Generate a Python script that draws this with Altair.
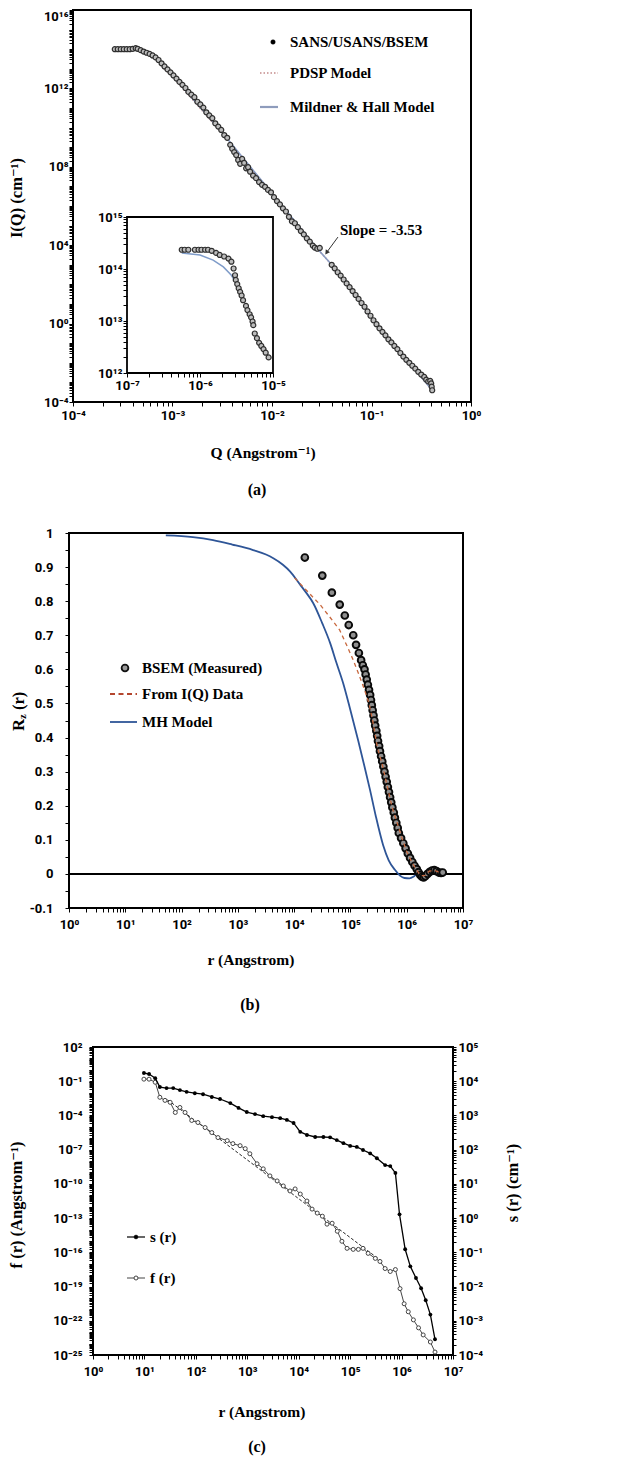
import altair as alt
import pandas as pd

# ================= Panel (a): I(Q) vs Q  (values are log10) =================
a_log_q = [-3.58, -3.55, -3.52, -3.49, -3.46, -3.43, -3.40, -3.37, -3.35,
           -3.32, -3.29, -3.26, -3.23, -3.20, -3.17, -3.14, -3.11, -3.08, -3.05,
           -3.02, -2.99, -2.96, -2.93, -2.90, -2.87, -2.84, -2.81, -2.78, -2.75,
           -2.72, -2.69, -2.66, -2.63, -2.60, -2.57, -2.54, -2.51, -2.48, -2.45,
           -2.42, -2.40, -2.38, -2.36, -2.34, -2.32, -2.30, -2.28, -2.26, -2.24,
           -2.22, -2.19, -2.16, -2.13, -2.10, -2.07, -2.04, -2.01, -1.98, -1.95,
           -1.92, -1.89, -1.86, -1.83, -1.80, -1.77, -1.74, -1.71, -1.68, -1.65,
           -1.62, -1.59, -1.57, -1.545, -1.52,
           -1.40, -1.37, -1.34, -1.31, -1.28, -1.25, -1.22, -1.19, -1.16, -1.13,
           -1.10, -1.07, -1.04, -1.01, -0.98, -0.95, -0.92, -0.89, -0.86, -0.83,
           -0.80, -0.77, -0.74, -0.71, -0.68, -0.65, -0.62, -0.59, -0.56, -0.53,
           -0.50, -0.47, -0.45, -0.43, -0.41, -0.40, -0.395, -0.39]
a_log_i = [14.0, 14.0, 14.0, 14.0, 14.0, 14.0, 14.02, 14.05, 14.02,
           13.95, 13.88, 13.82, 13.76, 13.68, 13.58, 13.45, 13.28, 13.12, 12.97,
           12.82, 12.66, 12.50, 12.33, 12.18, 12.02, 11.82, 11.68, 11.55, 11.32,
           11.18, 11.02, 10.78, 10.62, 10.48, 10.22, 10.05, 9.88, 9.62, 9.48,
           9.12, 8.92, 8.75, 8.60, 8.35, 8.15, 8.40, 8.20, 7.92, 7.98,
           7.75, 7.55, 7.42, 7.22, 7.08, 6.98, 6.82, 6.70, 6.45, 6.25,
           6.08, 5.88, 5.72, 5.45, 5.22, 5.12, 4.92, 4.72, 4.55, 4.35,
           4.18, 3.98, 3.88, 3.82, 3.86,
           3.00, 2.82, 2.62, 2.45, 2.25, 2.05, 1.86, 1.66, 1.46, 1.26,
           1.05, 0.86, 0.62, 0.40, 0.17, -0.03, -0.24, -0.42, -0.60, -0.80,
           -0.96, -1.14, -1.30, -1.50, -1.68, -1.85, -2.00, -2.15, -2.30, -2.46,
           -2.60, -2.72, -2.86, -2.95, -2.92, -3.05, -3.22, -3.40]
a_mh_log_q = [-3.58, -3.37, -3.25, -3.15, -3.00, -2.50, -2.00, -1.55, -1.40, -1.00, -0.39]
a_mh_log_i = [14.0, 14.0, 13.8, 13.45, 12.65, 9.75, 6.65, 3.86, 3.00, 0.30, -3.40]
a_pdsp_log_q = [-3.58, -3.37, -3.20, -3.00, -2.50, -2.00, -1.55, -1.40, -1.00, -0.39]
a_pdsp_log_i = [14.0, 14.0, 13.6, 12.6, 9.7, 6.6, 3.85, 3.0, 0.28, -3.38]
slope_arrow_q = [0.046, 0.0357]
slope_arrow_i = [2.6e4, 4.5e3]
slope_text_q = [0.0482]
slope_text_i = [6.0e4]

inset_log_q = [-6.25, -6.21, -6.16, -6.07, -6.02, -5.98, -5.93, -5.89, -5.84, -5.78,
               -5.73, -5.67, -5.61, -5.57, -5.54, -5.52, -5.51, -5.49, -5.47, -5.45,
               -5.43, -5.41, -5.37, -5.35, -5.32, -5.30, -5.28, -5.27, -5.25, -5.22,
               -5.19, -5.16, -5.13, -5.10, -5.06]
inset_log_i = [14.37, 14.37, 14.37, 14.37, 14.37, 14.37, 14.37, 14.37, 14.35, 14.31,
               14.27, 14.24, 14.20, 14.14, 14.01, 13.88, 13.79, 13.71, 13.63, 13.56,
               13.49, 13.40, 13.29, 13.21, 13.13, 13.07, 12.99, 12.92, 12.76, 12.67,
               12.58, 12.52, 12.46, 12.39, 12.30]
inset_mh_log_q = [-6.25, -6.00, -5.82, -5.68, -5.57, -5.50, -5.45]
inset_mh_log_i = [14.31, 14.27, 14.17, 14.04, 13.88, 13.72, 13.56]

# ================= Panel (b): Rz(r) =================
b_mh_log_r = [1.72, 2.2, 2.56, 2.9, 3.27, 3.5, 3.63, 3.8, 3.93, 4.1,
              4.2, 4.34, 4.5, 4.64, 4.75, 4.87, 5.0, 5.14, 5.25, 5.35,
              5.45, 5.58, 5.68, 5.79, 5.88, 5.96, 6.05, 6.12, 6.18]
b_mh_rz = [0.993, 0.988, 0.979, 0.966, 0.950, 0.937, 0.926, 0.907, 0.887, 0.85,
           0.828, 0.794, 0.735, 0.677, 0.62, 0.56, 0.48, 0.39, 0.315, 0.245,
           0.17, 0.085, 0.04, 0.012, -0.005, -0.012, -0.013, -0.008, 0.0]
b_iq_log_r = [4.01, 4.2, 4.46, 4.65, 4.81, 4.95, 5.05, 5.15, 5.25, 5.33,
              5.40, 5.48, 5.56, 5.65, 5.74, 5.83, 5.91, 6.00, 6.09, 6.18,
              6.25, 6.32, 6.4, 6.5, 6.6]
b_iq_rz = [0.868, 0.835, 0.79, 0.75, 0.715, 0.665, 0.627, 0.585, 0.54, 0.50,
           0.445, 0.37, 0.325, 0.26, 0.196, 0.15, 0.108, 0.065, 0.035, 0.01,
           -0.005, -0.005, 0.008, 0.01, 0.003]
b_bsem_log_r = [4.19, 4.50, 4.67, 4.81, 4.90, 4.97, 5.05, 5.10, 5.15, 5.19, 5.22,
                5.25, 5.27, 5.29, 5.31, 5.33, 5.35, 5.365, 5.38, 5.395, 5.41,
                5.425, 5.44, 5.46, 5.475, 5.49, 5.51, 5.525, 5.545, 5.565, 5.585,
                5.605, 5.625, 5.645, 5.665, 5.685, 5.705, 5.725, 5.745, 5.77, 5.79,
                5.815, 5.84, 5.86, 5.90, 5.94, 5.98, 6.02, 6.06, 6.10, 6.14,
                6.18, 6.21, 6.24, 6.27, 6.30, 6.33, 6.37, 6.41, 6.45, 6.49,
                6.53, 6.57, 6.61, 6.64]
b_bsem_rz = [0.928, 0.875, 0.825, 0.79, 0.758, 0.73, 0.70, 0.672, 0.648, 0.627, 0.612,
             0.60, 0.585, 0.57, 0.555, 0.54, 0.525, 0.51, 0.495, 0.48, 0.465,
             0.45, 0.435, 0.42, 0.405, 0.39, 0.375, 0.36, 0.345, 0.33, 0.315,
             0.30, 0.285, 0.27, 0.255, 0.24, 0.225, 0.21, 0.195, 0.18, 0.165,
             0.15, 0.135, 0.12, 0.105, 0.09, 0.075, 0.06, 0.047, 0.035, 0.024,
             0.014, 0.005, -0.003, -0.008, -0.01, -0.007, 0.0, 0.006, 0.01, 0.011,
             0.008, 0.004, 0.003, 0.004]

# ================= Panel (c): s(r) and f(r) =================
c_s_log_r = [0.99, 1.09, 1.21, 1.30, 1.43, 1.56, 1.69, 1.82, 1.98, 2.14,
             2.31, 2.47, 2.67, 2.83, 2.99, 3.15, 3.31, 3.48, 3.64, 3.77,
             3.90, 4.03, 4.16, 4.32, 4.48, 4.61, 4.74, 4.87, 5.00, 5.13,
             5.25, 5.39, 5.52, 5.68, 5.78, 5.88, 5.96, 6.07, 6.17, 6.28,
             6.38, 6.47, 6.56, 6.65]
c_s_log_s = [4.24, 4.21, 4.09, 3.83, 3.80, 3.80, 3.74, 3.69, 3.65, 3.62,
             3.54, 3.48, 3.36, 3.22, 3.10, 3.04, 2.98, 2.95, 2.92, 2.87,
             2.78, 2.52, 2.43, 2.37, 2.37, 2.36, 2.28, 2.19, 2.11, 2.08,
             1.99, 1.89, 1.75, 1.55, 1.52, 1.32, 0.11, -0.91, -1.41, -1.75,
             -2.05, -2.40, -2.82, -3.54]
c_f_log_r = [0.99, 1.09, 1.21, 1.30, 1.40, 1.50, 1.60, 1.69, 1.79, 1.92,
             2.04, 2.18, 2.31, 2.43, 2.61, 2.72, 2.86, 2.96, 3.05, 3.19,
             3.31, 3.44, 3.58, 3.70, 3.83, 3.93, 4.03, 4.16, 4.26, 4.36,
             4.46, 4.55, 4.65, 4.75, 4.84, 4.94, 5.06, 5.16, 5.25, 5.35,
             5.49, 5.58, 5.68, 5.78, 5.88, 5.97, 6.05, 6.13, 6.23, 6.33,
             6.42, 6.56, 6.65]
c_f_log_f = [-0.82, -0.82, -1.09, -2.41, -2.68, -2.85, -3.74, -3.30, -3.74, -4.44,
             -4.62, -5.06, -5.50, -5.94, -6.21, -6.47, -6.65, -6.91, -7.36, -8.24,
             -8.68, -9.30, -9.74, -10.18, -10.62, -10.44, -10.89, -11.50, -12.21, -12.56,
             -12.83, -13.53, -13.45, -14.15, -15.03, -15.65, -15.74, -15.74, -15.65, -16.09,
             -16.53, -16.80, -17.42, -17.68, -17.51, -19.18, -20.51, -21.21, -21.92, -22.62,
             -23.24, -23.86, -24.74]
c_fit_log_r = [1.45, 5.6]
c_fit_log_f = [-2.63, -16.74]

# ================= styling / layout =================
SERIF = "Liberation Serif, Times New Roman, DejaVu Serif, serif"
SANS = "Roboto, Noto Sans, DejaVu Sans, sans-serif"
W, H = 613, 1449
SUP = str.maketrans("0123456789-", "\u2070\u00b9\u00b2\u00b3\u2074\u2075\u2076\u2077\u2078\u2079\u207b")


def pow10(e):
    return "10" + str(e).translate(SUP)


def log_ticks(e0, e1):
    vals = [m * 10.0 ** e for e in range(e0, e1) for m in range(1, 10)]
    return vals + [10.0 ** e1]


def decade_labels(e0, e1, step):
    return {10.0 ** e: pow10(e) for e in range(e0, e1 + 1, step)}


def expr_for(mapping):
    expr = "''"
    for v, s in mapping.items():
        expr = f"datum.value === {v!r} ? '{s}' : ({expr})"
    return expr


def axis(orient, offset, values, mapping, tick=4, pad=2, size=13, **extra):
    return alt.Axis(orient=orient, offset=offset, values=values, labelExpr=expr_for(mapping),
                    title=None, domain=False, grid=False, tickSize=tick, tickWidth=1,
                    tickColor="black", labelFont=SANS, labelFontSize=size,
                    labelFontWeight="bold", labelColor="black", labelPadding=pad,
                    labelOverlap=False, labelFlush=False, zindex=1, **extra)


def pw(vals):
    return [10.0 ** v for v in vals]


# ---------- panel a ----------
xa = alt.Scale(type="log", domain=[1e-4, 1.0], range=[65, 463])
ya = alt.Scale(type="log", domain=[1e-4, 1e16], range=[394, 2])
ax_xa = axis("bottom", 394 - H, log_ticks(-4, 0), decade_labels(-4, 0, 1), tick=4, pad=3)
ax_ya = axis("left", -65, log_ticks(-4, 16), decade_labels(-4, 16, 4), tick=4, pad=1,
             labelBaseline={"condition": {"test": "datum.value === 1e+16", "value": "top"},
                            "value": "middle"})


def enc_a(c, xf="q", yf="i"):
    return c.encode(x=alt.X(f"{xf}:Q", scale=xa, axis=ax_xa), y=alt.Y(f"{yf}:Q", scale=ya, axis=ax_ya))


a_df = pd.DataFrame({"q": pw(a_log_q), "i": pw(a_log_i)})
a_mh_df = pd.DataFrame({"q": pw(a_mh_log_q), "i": pw(a_mh_log_i)})
a_pdsp_df = pd.DataFrame({"q": pw(a_pdsp_log_q), "i": pw(a_pdsp_log_i)})
frame_a = pd.DataFrame({"q": [1e-4], "q2": [1.0], "i": [1e-4], "i2": [1e16]})
arrow_df = pd.DataFrame({"q": [slope_arrow_q[0]], "q2": [slope_arrow_q[1]],
                         "i": [slope_arrow_i[0]], "i2": [slope_arrow_i[1]]})
head_df = pd.DataFrame({"q": [slope_arrow_q[1]], "i": [slope_arrow_i[1]]})
slope_df = pd.DataFrame({"q": slope_text_q, "i": slope_text_i})

A_main = alt.layer(
    enc_a(alt.Chart(frame_a).mark_rect(fillOpacity=0, stroke="black", strokeWidth=2)).encode(x2="q2:Q", y2="i2:Q"),
    enc_a(alt.Chart(a_pdsp_df).mark_line(color="#c48a8a", strokeWidth=1.5, strokeDash=[1.5, 2])),
    enc_a(alt.Chart(a_mh_df).mark_line(color="#8a9cc2", strokeWidth=1.6)),
    enc_a(alt.Chart(a_df).mark_circle(size=25, fill="#bdbdbd", stroke="#2e2e2e", strokeWidth=1.2, opacity=1)),
    enc_a(alt.Chart(arrow_df).mark_rule(color="#333333", strokeWidth=1)).encode(x2="q2:Q", y2="i2:Q"),
    enc_a(alt.Chart(head_df).mark_point(shape="triangle", angle=216, filled=True, size=26,
                                         color="#333333", opacity=1)),
    enc_a(alt.Chart(slope_df).mark_text(text="Slope = -3.53", align="left", baseline="middle",
                                         font=SERIF, fontSize=15, fontWeight="bold", color="black")),
)

# ---------- inset ----------
xi = alt.Scale(type="log", domain=[1e-7, 1e-5], range=[119, 265])
yi = alt.Scale(type="log", domain=[1e12, 1e15], range=[365, 209])
ax_xi = axis("bottom", 365 - H, log_ticks(-7, -5), decade_labels(-7, -5, 1), tick=4, pad=2)
ax_yi = axis("left", -119, log_ticks(12, 15), decade_labels(12, 15, 1), tick=4, pad=1)


def enc_i(c):
    return c.encode(x=alt.X("q:Q", scale=xi, axis=ax_xi), y=alt.Y("i:Q", scale=yi, axis=ax_yi))


frame_i = pd.DataFrame({"q": [1e-7], "q2": [1e-5], "i": [1e12], "i2": [1e15]})
in_df = pd.DataFrame({"q": pw(inset_log_q), "i": pw(inset_log_i)})
in_mh_df = pd.DataFrame({"q": pw(inset_mh_log_q), "i": pw(inset_mh_log_i)})
A_inset = alt.layer(
    enc_i(alt.Chart(frame_i).mark_rect(fill="white", stroke="black", strokeWidth=1.8)).encode(x2="q2:Q", y2="i2:Q"),
    enc_i(alt.Chart(in_mh_df).mark_line(color="#7f9cc9", strokeWidth=1.5)),
    enc_i(alt.Chart(in_df).mark_circle(size=25, fill="#bdbdbd", stroke="#2e2e2e", strokeWidth=1.2, opacity=1)),
)

# ---------- panel b ----------
xb = alt.Scale(type="log", domain=[1.0, 1e7], range=[61, 455])
yb = alt.Scale(type="linear", domain=[-0.1, 1.0], range=[900, 525])
b_major = [-0.1, 0.0, 0.1, 0.2, 0.3, 0.4, 0.5, 0.6, 0.7, 0.8, 0.9, 1.0]
b_minor = [-0.05, 0.05, 0.15, 0.25, 0.35, 0.45, 0.55, 0.65, 0.75, 0.85, 0.95]
ax_xb = axis("bottom", 900 - H, log_ticks(0, 7), decade_labels(0, 7, 1), tick=4, pad=6)
ax_yb = axis("left", -61, b_major + b_minor, {v: f"{v:g}" for v in b_major}, tick=4, pad=12)


def enc_b(c):
    return c.encode(x=alt.X("r:Q", scale=xb, axis=ax_xb), y=alt.Y("rz:Q", scale=yb, axis=ax_yb))


frame_b = pd.DataFrame({"r": [1.0], "r2": [1e7], "rz": [-0.1], "rz2": [1.0]})
zero_b = pd.DataFrame({"r": [1.0], "r2": [1e7], "rz": [0.0]})
b_mh_df = pd.DataFrame({"r": pw(b_mh_log_r), "rz": b_mh_rz})
b_iq_df = pd.DataFrame({"r": pw(b_iq_log_r), "rz": b_iq_rz})
b_bsem_df = pd.DataFrame({"r": pw(b_bsem_log_r), "rz": b_bsem_rz})
B = alt.layer(
    enc_b(alt.Chart(frame_b).mark_rect(fillOpacity=0, stroke="black", strokeWidth=2)).encode(x2="r2:Q", y2="rz2:Q"),
    enc_b(alt.Chart(zero_b).mark_rule(color="black", strokeWidth=2)).encode(x2="r2:Q"),
    enc_b(alt.Chart(b_mh_df).mark_line(color="#2e5597", strokeWidth=1.8, interpolate="monotone")),
    enc_b(alt.Chart(b_bsem_df).mark_circle(size=46, fill="#8f8f8f", stroke="#0a0a0a", strokeWidth=1.9, opacity=1)),
    enc_b(alt.Chart(b_iq_df).mark_line(color="#c8683e", strokeWidth=1.3, strokeDash=[4, 3.5])),
)

# ---------- panel c ----------
xc = alt.Scale(type="log", domain=[1.0, 1e7], range=[85, 445])
ycl = alt.Scale(type="log", domain=[1e-25, 1e2], range=[1347, 1039])
ycr = alt.Scale(type="log", domain=[1e-4, 1e5], range=[1347, 1039])
ax_xc = axis("bottom", 1347 - H, log_ticks(0, 7), decade_labels(0, 7, 1), tick=4, pad=6)
ax_ycl = axis("left", -85, log_ticks(-25, 2), decade_labels(-25, 2, 3), tick=4, pad=7)
ax_ycr = axis("right", 445 - W, log_ticks(-4, 5), decade_labels(-4, 5, 1), tick=3, pad=2)


def enc_cf(c):
    return c.encode(x=alt.X("r:Q", scale=xc, axis=ax_xc), y=alt.Y("f:Q", scale=ycl, axis=ax_ycl))


def enc_cs(c):
    return c.encode(x=alt.X("r:Q", scale=xc, axis=None), y=alt.Y("s:Q", scale=ycr, axis=ax_ycr))


frame_c = pd.DataFrame({"r": [1.0], "r2": [1e7], "f": [1e-25], "f2": [1e2]})
c_f_df = pd.DataFrame({"r": pw(c_f_log_r), "f": pw(c_f_log_f)})
c_fit_df = pd.DataFrame({"r": pw(c_fit_log_r), "f": pw(c_fit_log_f)})
c_s_df = pd.DataFrame({"r": pw(c_s_log_r), "s": pw(c_s_log_s)})
C_f = alt.layer(
    enc_cf(alt.Chart(frame_c).mark_rect(fillOpacity=0, stroke="black", strokeWidth=2)).encode(x2="r2:Q", y2="f2:Q"),
    enc_cf(alt.Chart(c_fit_df).mark_line(color="#222222", strokeWidth=1, strokeDash=[3, 2])),
    enc_cf(alt.Chart(c_f_df).mark_line(color="#444444", strokeWidth=1)),
    enc_cf(alt.Chart(c_f_df).mark_circle(size=16, fill="white", stroke="#444444", strokeWidth=1, opacity=1)),
)
C_s = alt.layer(
    enc_cs(alt.Chart(c_s_df).mark_line(color="black", strokeWidth=1.3)),
    enc_cs(alt.Chart(c_s_df).mark_circle(size=15, color="black", opacity=1)),
)

# ---------- titles, legends, captions ----------
one = pd.DataFrame({"k": [0]})


def txt(s, x, y, size=15, angle=0, align="left", font=SERIF):
    return alt.Chart(one).mark_text(text=s, font=font, fontSize=size, fontWeight="bold", angle=angle,
                                    align=align, baseline="middle", color="black").encode(
        x=alt.value(x), y=alt.value(y))


def seg(x1, x2, y, color, width, dash=None):
    kw = dict(color=color, strokeWidth=width)
    if dash:
        kw["strokeDash"] = dash
    return alt.Chart(one).mark_rule(**kw).encode(x=alt.value(x1), x2=alt.value(x2), y=alt.value(y))


def dot(x, y, size, fill, stroke, sw):
    return alt.Chart(one).mark_circle(size=size, fill=fill, stroke=stroke, strokeWidth=sw,
                                      opacity=1).encode(x=alt.value(x), y=alt.value(y))


annots = [
    # panel a
    txt("I(Q) (cm\u207b\u00b9)", 9, 190, 16.5, 270, "center"),
    txt("Q (Angstrom\u207b\u00b9)", 255, 445, 15.5, 0, "center"),
    txt("(a)", 249, 482, 16, 0, "center"),
    dot(265, 34, 20, "black", "black", 0.5),
    txt("SANS/USANS/BSEM", 282, 34),
    seg(252, 270, 65, "#c48a8a", 1.6, [1.5, 2]),
    txt("PDSP Model", 282, 65),
    seg(252, 270, 99, "#8e9cbc", 2.2),
    txt("Mildner & Hall Model", 282, 99),
    # panel b
    txt("R", 11, 723, 16.5, 270, "left"),
    txt("z", 15, 711, 10.5, 270, "left"),
    txt("(r)", 11, 702, 16.5, 270, "left"),
    txt("r (Angstrom)", 243, 952, 15.5, 0, "center"),
    txt("(b)", 242, 997, 16, 0, "center"),
    dot(117, 660, 46, "#9c9c9c", "#111111", 1.8),
    txt("BSEM (Measured)", 134, 660),
    seg(102, 129, 686, "#b4462e", 1.8, [5, 3.5]),
    txt("From I(Q) Data", 134, 686),
    seg(102, 129, 714, "#2e5597", 1.8),
    txt("MH Model", 134, 714),
    # panel c
    txt("f (r) (Angstrom\u207b\u00b9)", 9, 1197, 16.5, 270, "center"),
    txt("s (r) (cm\u207b\u00b9)", 505, 1175, 16.5, 270, "center"),
    txt("r (Angstrom)", 254, 1404, 15.5, 0, "center"),
    txt("(c)", 249, 1439, 16, 0, "center"),
    seg(119, 137, 1229, "black", 1.2),
    dot(128, 1229, 15, "black", "black", 0.5),
    txt("s (r)", 142, 1229),
    seg(119, 137, 1270, "#444444", 1),
    dot(128, 1270, 16, "white", "#444444", 1),
    txt("f (r)", 142, 1270),
]

chart = alt.layer(A_main, A_inset, B, C_f, C_s, *annots).resolve_scale(
    x="independent", y="independent"
).properties(
    width=W, height=H, padding=0, background="white",
    autosize=alt.AutoSizeParams(type="none"),
).configure_view(stroke="transparent")

chart.save("out.html", embed_options={"renderer": "svg", "actions": False})
